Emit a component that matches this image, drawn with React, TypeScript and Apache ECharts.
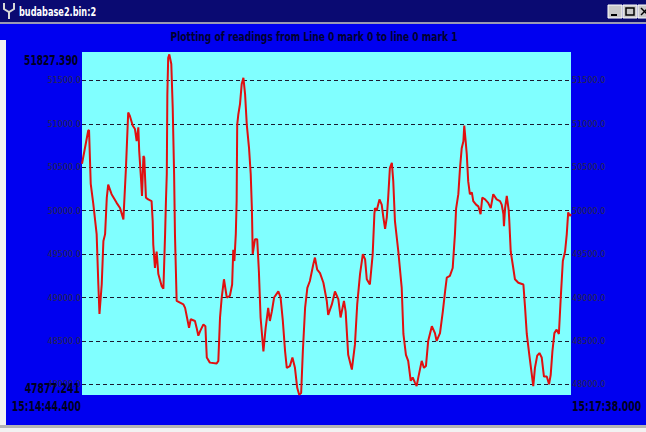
import React, { useEffect, useRef } from "react";
import * as echarts from "echarts";

// Seconds since 15:14:44.400
const times: number[] = [
  0, 2.2, 2.5, 3.1, 4.0, 5.2, 5.8, 6.2, 7.0, 7.6, 8.2, 8.8, 9.3, 10.5, 12.3, 13.5, 14.7, 15.6, 16.4, 17.0,
  18.0, 18.8, 19.4, 20.0, 20.3, 21.0, 21.3, 21.8, 22.1, 22.7, 23.5, 24.7, 25.1, 25.3, 25.9, 26.5, 27.1, 28.3, 28.9, 29.5,
  29.8, 30.1, 30.3, 30.6, 31.0, 31.7, 32.2, 32.7, 33.0, 33.6, 34.8, 36.0, 36.6, 37.4, 38.0, 38.6, 40.1, 40.7, 41.3, 41.9,
  43.1, 43.8, 44.3, 45.4, 47.8, 48.4, 49.0, 49.6, 50.4, 51.4, 52.5, 53.3, 53.7, 54.1, 54.6, 54.9, 55.1, 55.5, 56.1, 56.7,
  57.3, 57.9, 58.5, 59.3, 59.9, 60.3, 60.4, 60.6, 61.4, 62.2, 62.8, 63.4, 64.4, 65.2, 66.1, 66.7, 67.4, 68.2, 69.7, 70.5,
  71.3, 72.1, 72.7, 73.8, 74.7, 75.6, 76.4, 77.1, 77.8, 78.4, 79.2, 80.0, 80.9, 82.1, 82.7, 83.5, 84.5, 85.7, 86.9, 87.4,
  88.7, 89.8, 91.0, 91.8, 93.0, 93.6, 94.5, 95.8, 96.9, 97.7, 98.7, 99.7, 100.5, 101.1, 102.2, 103.2, 103.8, 104.0, 104.6, 105.6,
  106.4, 107.0, 107.6, 108.2, 108.7, 109.3, 110.0, 110.5, 111.1, 112.3, 113.5, 114.1, 115.0, 115.8, 116.7, 117.4, 118.2, 118.8, 119.4, 120.6,
  121.4, 122.1, 122.9, 124.2, 125.3, 125.9, 127.1, 128.1, 128.9, 129.5, 130.6, 131.6, 132.4, 132.8, 133.6, 134.2, 134.8, 135.4, 135.7, 136.2,
  136.6, 137.1, 137.7, 138.4, 138.9, 139.9, 140.7, 141.5, 142.1, 143.1, 144.2, 145.1, 146.0, 147.2, 148.4, 149.0, 149.6, 149.8, 150.2, 150.8,
  151.5, 151.7, 152.2, 153.1, 153.7, 154.9, 156.7, 157.3, 157.9, 158.8, 159.7, 160.2, 160.8, 161.6, 162.4, 163.2, 164.0, 165.0, 165.8, 166.4,
  167.0, 167.7, 168.5, 169.3, 169.9, 170.7, 171.5, 172.1, 172.6, 173.2, 173.6,
];

const readings: number[] = [
  50540, 50920, 50930, 50310, 50080, 49730, 49150, 48810, 49150, 49650, 49730, 50150, 50300, 50190, 50090, 50030, 49900, 50490, 51130, 51090,
  50980, 50940, 50800, 50960, 50690, 50340, 50170, 50630, 50610, 50150, 50130, 50110, 49880, 49610, 49340, 49530, 49270, 49130, 49100, 49730,
  50110, 50420, 51340, 51760, 51800, 51690, 51190, 50420, 49730, 48960, 48940, 48920, 48880, 48750, 48650, 48750, 48730, 48650, 48560, 48610,
  48690, 48670, 48310, 48250, 48240, 48270, 48770, 49000, 49210, 49000, 49020, 49150, 49550, 49420, 49730, 50110, 50990, 51110, 51230, 51460,
  51530, 51340, 50990, 50720, 50420, 50030, 49880, 49500, 49670, 49670, 49300, 48770, 48380, 48650, 48880, 48730, 48840, 49000, 49070, 49000,
  48730, 48380, 48190, 48210, 48310, 48190, 47960, 47880, 47900, 48380, 48880, 49110, 49190, 49380, 49460, 49320, 49280, 49170, 48960, 48800,
  48920, 49070, 48980, 48770, 48960, 48840, 48340, 48170, 48460, 48920, 49270, 49500, 49440, 49210, 49150, 49500, 49960, 50030, 50000, 50130,
  50070, 49920, 49790, 49920, 50150, 50490, 50550, 50340, 49880, 49530, 49110, 48580, 48340, 48270, 48040, 48080, 48020, 47980, 48080, 48270,
  48190, 48210, 48500, 48670, 48590, 48500, 48590, 48840, 49070, 49230, 49250, 49340, 49730, 50020, 50190, 50490, 50720, 50800, 50980, 50800,
  50650, 50340, 50190, 50210, 50110, 50070, 50050, 49960, 50150, 50130, 50090, 50030, 50190, 50130, 50110, 50070, 49960, 49820, 50030, 50170,
  50000, 49880, 49530, 49340, 49210, 49170, 49150, 48880, 48580, 48340, 48110, 47980, 48190, 48330, 48360, 48310, 48090, 48090, 48000, 48110,
  48380, 48590, 48630, 48580, 48960, 49420, 49530, 49730, 49980, 49940, 49960,
];

const gridValues: number[] = [48000, 48500, 49000, 49500, 50000, 50500, 51000, 51500];

const axisMin = 47877.241;
const axisMax = 51827.39;
const duration = 173.6;
const maxLabel = "51827.390";
const minLabel = "47877.241";
const startLabel = "15:14:44.400";
const endLabel = "15:17:38.000";
const windowTitle = "budabase2.bin:2";
const chartTitle = "Plotting of readings from Line 0 mark 0 to line 0 mark 1";

const NARROW = "'Liberation Sans Narrow', 'DejaVu Sans Condensed', sans-serif";

export default function App() {
  const ref = useRef<HTMLDivElement>(null);

  useEffect(() => {
    if (!ref.current) return;
    const chart = echarts.init(ref.current, undefined, { renderer: "svg" });
    const data = times.map((t, i) => [t, readings[i]]);

    const lineData: any[] = [];
    gridValues.forEach((v) => {
      lineData.push({
        yAxis: v,
        label: { position: "start", formatter: v.toFixed(1) },
      });
      lineData.push({
        yAxis: v,
        label: { position: "end", formatter: v.toFixed(1) },
      });
    });

    const boldText = (x: number, y: number, text: string, align: string, size: number, sx: number, fill: string) => ({
      type: "text",
      x,
      y,
      z: 10,
      scaleX: sx,
      style: {
        text,
        fill,
        font: `bold ${size}px ${NARROW}`,
        align,
        verticalAlign: "middle",
      },
    });

    const option: any = {
      animation: false,
      backgroundColor: "#0000f0",
      grid: {
        left: 82,
        top: 52,
        width: 489,
        height: 343,
        show: true,
        backgroundColor: "#80ffff",
        borderWidth: 0,
      },
      xAxis: {
        type: "value",
        min: 0,
        max: duration,
        show: false,
        splitLine: { show: false },
      },
      yAxis: {
        type: "value",
        min: axisMin,
        max: axisMax,
        show: false,
        splitLine: { show: false },
      },
      series: [
        {
          type: "line",
          data,
          showSymbol: false,
          symbol: "none",
          lineStyle: { color: "#e01010", width: 2 },
          z: 3,
          markLine: {
            silent: true,
            symbol: "none",
            z: 2,
            lineStyle: { type: [4, 3], color: "#1a1a30", width: 1 },
            label: {
              show: true,
              distance: 1,
              color: "#2a2a48",
              fontSize: 9,
              fontFamily: NARROW,
            },
            data: lineData,
          },
        },
      ],
      graphic: [
        { type: "rect", shape: { x: 0, y: 0, width: 646, height: 22 }, style: { fill: "#0a0a72" } },
        { type: "rect", shape: { x: 0, y: 22, width: 646, height: 2 }, style: { fill: "#9a9ab4" } },
        { type: "rect", shape: { x: 0, y: 40, width: 6, height: 386 }, style: { fill: "#f2f2f2" } },
        { type: "rect", shape: { x: 0, y: 425, width: 646, height: 7 }, style: { fill: "#f2f2f2" } },
        { type: "rect", shape: { x: 0, y: 425, width: 646, height: 3 }, style: { fill: "#b4b4b4" } },
        {
          type: "polyline",
          shape: { points: [[4, 3], [4, 9], [9, 12], [14, 9], [14, 3]] },
          style: { stroke: "#d8d8d8", lineWidth: 2, fill: null },
        },
        { type: "line", shape: { x1: 9, y1: 12, x2: 9, y2: 19 }, style: { stroke: "#d8d8d8", lineWidth: 2 } },
        boldText(19, 12, windowTitle, "left", 13, 0.7, "#ffffff"),
        { type: "rect", shape: { x: 608, y: 5, width: 14, height: 13 }, style: { fill: "#c8c8c8", stroke: "#ffffff", lineWidth: 1 } },
        { type: "rect", shape: { x: 623, y: 5, width: 14, height: 13 }, style: { fill: "#c8c8c8", stroke: "#ffffff", lineWidth: 1 } },
        { type: "rect", shape: { x: 638, y: 5, width: 14, height: 13 }, style: { fill: "#c8c8c8", stroke: "#ffffff", lineWidth: 1 } },
        { type: "rect", shape: { x: 611, y: 14, width: 6, height: 2 }, style: { fill: "#000000" } },
        { type: "rect", shape: { x: 626, y: 8, width: 8, height: 7 }, style: { fill: null, stroke: "#000000", lineWidth: 1.5 } },
        { type: "line", shape: { x1: 641, y1: 8, x2: 648, y2: 15 }, style: { stroke: "#000000", lineWidth: 1.5 } },
        { type: "line", shape: { x1: 648, y1: 8, x2: 641, y2: 15 }, style: { stroke: "#000000", lineWidth: 1.5 } },
        boldText(314, 37, chartTitle, "center", 13, 0.78, "#000030"),
        boldText(78, 60, maxLabel, "right", 14, 0.72, "#000020"),
        boldText(80, 388, minLabel, "right", 14, 0.74, "#000020"),
        boldText(81, 406, startLabel, "right", 14, 0.74, "#000020"),
        boldText(572, 406, endLabel, "left", 14, 0.74, "#000020"),
      ],
    };

    chart.setOption(option);
    return () => chart.dispose();
  }, []);

  return (
    <div
      ref={ref}
      style={{ position: "fixed", left: 0, top: 0, width: 646, height: 432 }}
    />
  );
}
